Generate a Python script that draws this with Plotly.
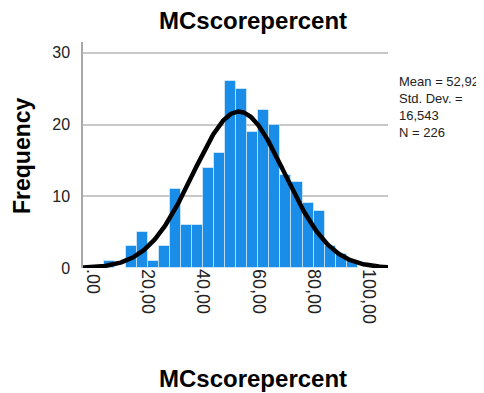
import numpy as np
import plotly.graph_objects as go

# ---- data ----
bin_starts = [4, 8, 12, 16, 20, 24, 28, 32, 36, 40, 44, 48, 52, 56, 60, 64, 68, 72, 76, 80, 84, 88, 92]
counts     = [1, 0, 3, 5, 1, 3, 11, 6, 6, 14, 16, 26, 25, 19, 22, 20, 13, 12, 9, 8, 3, 2, 1]
bin_width = 4
mean_val = 52.92
sd_val = 16.543
n_val = 226
x_tickvals = [0, 20, 40, 60, 80, 100]
x_ticktext = [".00", "20,00", "40,00", "60,00", "80,00", "100,00"]
y_tickvals = [0, 10, 20, 30]
stats_lines = ["Mean = 52,92", "Std. Dev. =", "16,543", "N = 226"]
title_text = "MCscorepercent"
x_title = "MCscorepercent"
y_title = "Frequency"

x_range = [-3.6, 107]
y_range = [0, 31.5]

centers = [s + bin_width / 2 for s in bin_starts]

# normal curve from the stated statistics
xc = np.linspace(x_range[0], x_range[1], 400)
yc = n_val * bin_width / (sd_val * np.sqrt(2 * np.pi)) * np.exp(-0.5 * ((xc - mean_val) / sd_val) ** 2)

FONT = "Liberation Sans, Arial, sans-serif"

# page body has an 8px margin, so the figure is drawn 8px in from the window corner
OFF = 8
W, H = 484 - OFF, 393 - OFF
L, T = 83 - OFF, 42 - OFF
PW, PH = 305, 226
R, B = W - L - PW, H - T - PH


def px(x):
    return (x - OFF - L) / PW


def py(y):
    return (T + PH - (y - OFF)) / PH


fig = go.Figure()
fig.add_trace(go.Bar(
    x=centers, y=counts, width=[bin_width] * len(centers),
    marker=dict(color="#1a8de8", line=dict(color="rgba(255,255,255,0.5)", width=1)),
    showlegend=False, hoverinfo="skip",
))
fig.add_trace(go.Scatter(
    x=xc, y=yc, mode="lines", line=dict(color="black", width=4.5),
    showlegend=False, hoverinfo="skip", cliponaxis=False,
))

fig.update_layout(
    width=W, height=H,
    margin=dict(l=L, r=R, t=T, b=B, pad=0),
    paper_bgcolor="white", plot_bgcolor="white",
    font=dict(family=FONT, color="#222222"),
    bargap=0,
    xaxis=dict(
        range=x_range, tickvals=x_tickvals, ticktext=x_ticktext, tickangle=90,
        showgrid=False, zeroline=False, showline=False, ticks="",
        tickfont=dict(size=18, color="#222222"),
    ),
    yaxis=dict(
        range=y_range, tickvals=y_tickvals, showgrid=True, gridcolor="#c8c8c8", gridwidth=1.5,
        zeroline=False, showline=True, linecolor="#a8a8a8", linewidth=1.5, ticks="",
        ticklabelstandoff=8, tickfont=dict(size=16, color="#222222"),
    ),
    annotations=[
        dict(text="<b>%s</b>" % title_text, xref="paper", yref="paper", x=px(253), y=py(20),
             xanchor="center", yanchor="middle", showarrow=False, font=dict(size=24, color="black", family=FONT)),
        dict(text="<b>%s</b>" % x_title, xref="paper", yref="paper", x=px(253), y=py(378),
             xanchor="center", yanchor="middle", showarrow=False, font=dict(size=24, color="black", family=FONT)),
        dict(text="<b>%s</b>" % y_title, xref="paper", yref="paper", x=px(22), y=py(156),
             xanchor="center", yanchor="middle", textangle=-90, showarrow=False,
             font=dict(size=23, color="black", family=FONT)),
        dict(text="<br>".join(stats_lines), xref="paper", yref="paper", x=px(397), y=py(72),
             xanchor="left", yanchor="top", align="left", showarrow=False,
             font=dict(size=13, color="#222222", family=FONT)),
    ],
)

fig.write_html("out.html")
